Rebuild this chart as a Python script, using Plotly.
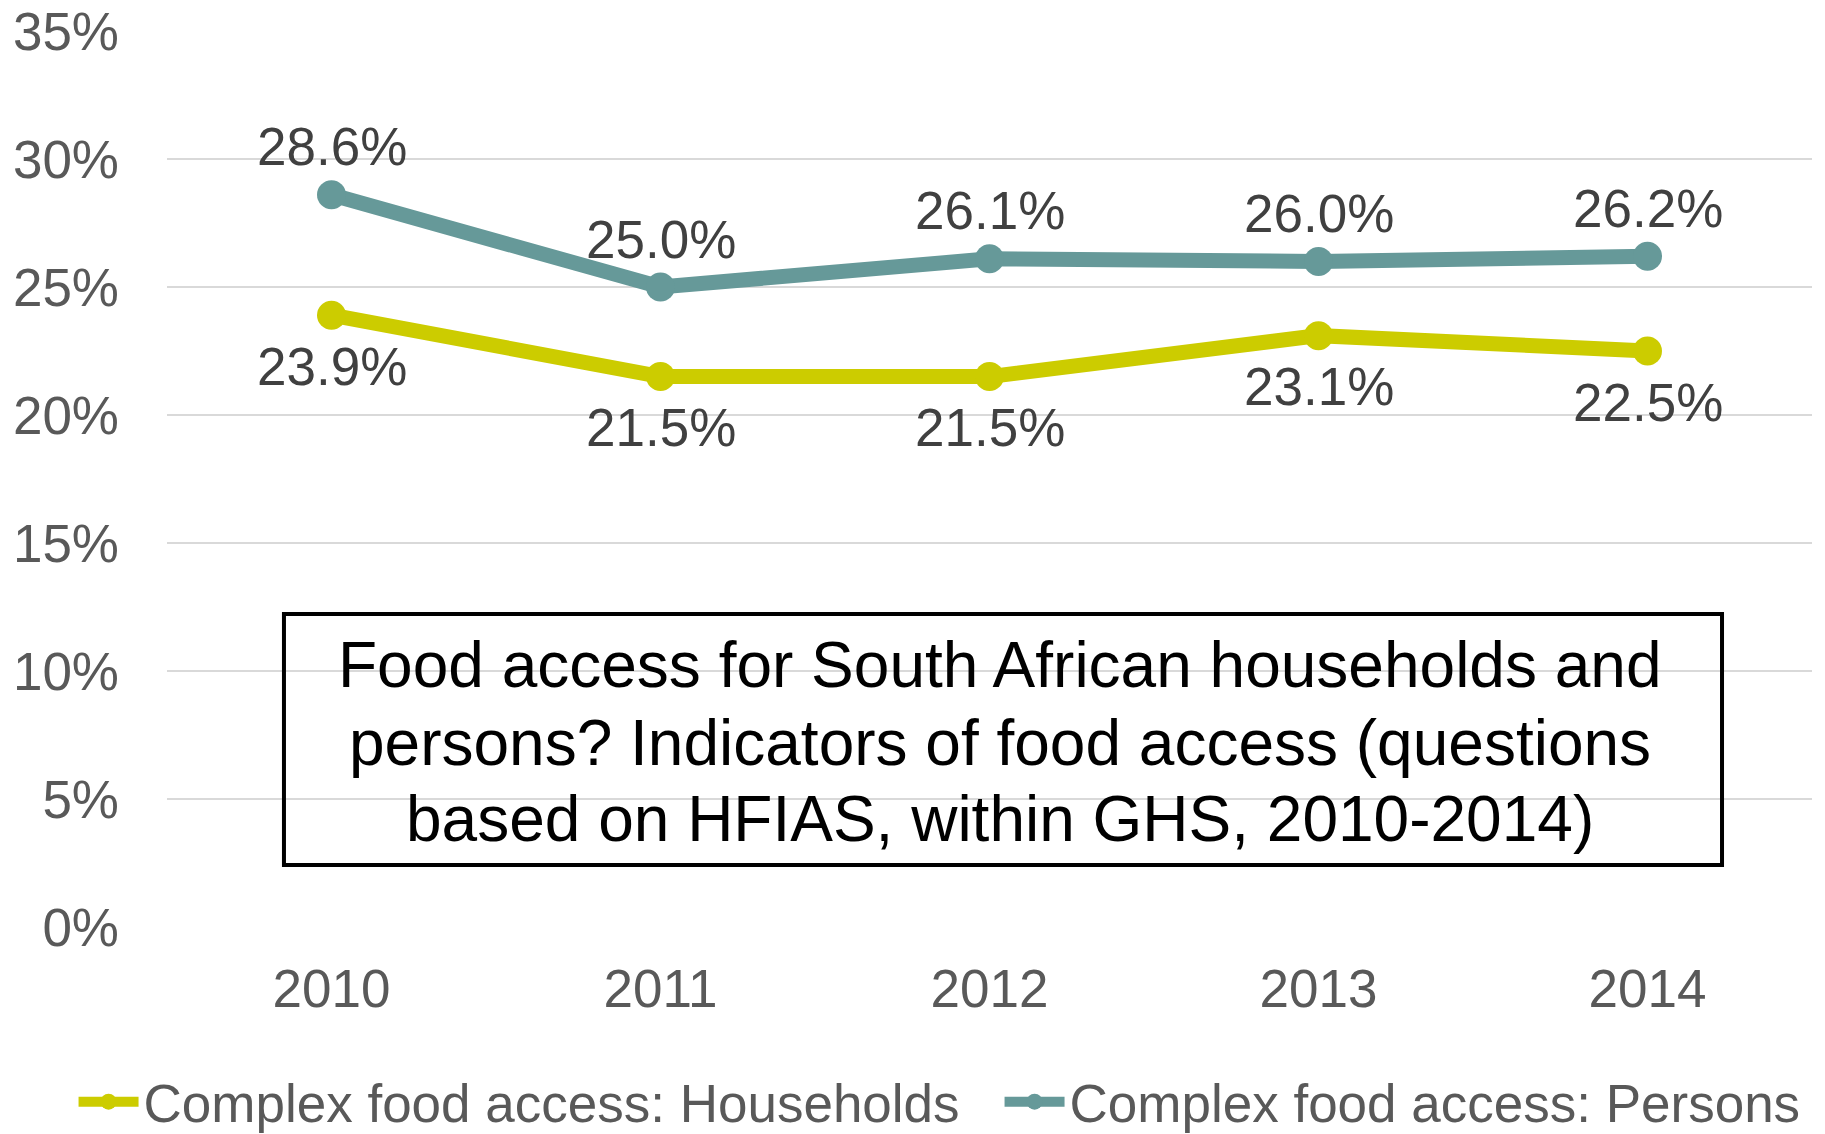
import plotly.graph_objects as go

# ---- data ----
years = ["2010", "2011", "2012", "2013", "2014"]
households = [23.9, 21.5, 21.5, 23.1, 22.5]
persons = [28.6, 25.0, 26.1, 26.0, 26.2]
households_name = "Complex food access: Households"
persons_name = "Complex food access: Persons"
y_ticks = [0, 5, 10, 15, 20, 25, 30, 35]
box_lines = [
    "Food access for South African households and",
    "persons? Indicators of food access (questions",
    "based on HFIAS, within GHS, 2010-2014)",
]

FONT = "Liberation Sans, Arial, sans-serif"
YELLOW = "#CCCC00"
TEAL = "#669999"
LABEL_COLOR = "#404040"
TICK_COLOR = "#595959"

fig = go.Figure()
fig.add_trace(go.Scatter(
    x=years, y=households, name=households_name, mode="lines+markers",
    line=dict(color=YELLOW, width=15), marker=dict(color=YELLOW, size=29),
    legend="legend",
))
fig.add_trace(go.Scatter(
    x=years, y=persons, name=persons_name, mode="lines+markers",
    line=dict(color=TEAL, width=15), marker=dict(color=TEAL, size=29),
    legend="legend2",
))

annotations = []
for i, yv in enumerate(persons):
    annotations.append(dict(x=i, y=yv, xref="x", yref="y", text=f"{yv:.1f}%",
                            showarrow=False, yanchor="middle", xanchor="center",
                            yshift=48, font=dict(family=FONT, size=53, color=LABEL_COLOR)))
for i, yv in enumerate(households):
    annotations.append(dict(x=i, y=yv, xref="x", yref="y", text=f"{yv:.1f}%",
                            showarrow=False, yanchor="middle", xanchor="center",
                            yshift=-51, font=dict(family=FONT, size=53, color=LABEL_COLOR)))

line_y = [0.2924, 0.2054, 0.1205]
for txt, ly in zip(box_lines, line_y):
    annotations.append(dict(x=0.5065, y=ly, xref="paper", yref="paper", text=txt,
                            showarrow=False, xanchor="center", yanchor="middle",
                            font=dict(family=FONT, size=64, color="#000000")))

legend_common = dict(orientation="h", xref="container", yref="container",
                     xanchor="left", y=0.0285, yanchor="middle",
                     font=dict(family=FONT, size=53, color=TICK_COLOR),
                     itemwidth=60, bgcolor="rgba(0,0,0,0)")

fig.update_layout(
    width=1825, height=1134,
    margin=dict(l=167, r=13, t=31, b=207, autoexpand=False),
    paper_bgcolor="white", plot_bgcolor="white",
    font=dict(family=FONT, size=53, color=TICK_COLOR),
    showlegend=True,
    legend=dict(x=0.0403, **legend_common),
    legend2=dict(x=0.5477, **legend_common),
    annotations=annotations,
    shapes=[dict(type="rect", xref="paper", yref="paper",
                 x0=0.0711, x1=0.9453, y0=0.0692, y1=0.3493,
                 line=dict(color="#000000", width=4), fillcolor="rgba(0,0,0,0)",
                 layer="above")],
)
fig.update_xaxes(type="category", range=[-0.5, 4.5], showgrid=False, showline=False,
                 zeroline=False, ticks="", ticklabelstandoff=26, automargin=False,
                 tickfont=dict(family=FONT, size=53, color=TICK_COLOR))
fig.update_yaxes(range=[0, 35], tickvals=y_ticks, ticktext=[f"{v}%" for v in y_ticks],
                 showgrid=True, gridcolor="#D9D9D9", gridwidth=1.5, zeroline=False,
                 showline=False, ticks="", ticklabelstandoff=47, automargin=False,
                 tickfont=dict(family=FONT, size=53, color=TICK_COLOR))

fig.write_html("out.html", config={"displayModeBar": False},
               post_script="document.body.style.margin='0';")
